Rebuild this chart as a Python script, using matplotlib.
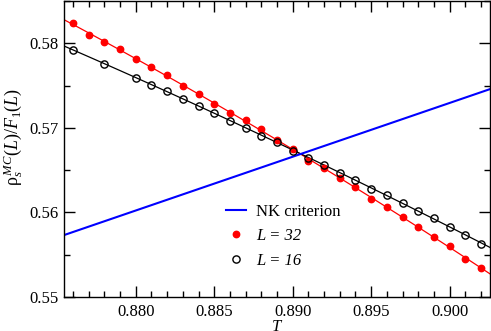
import numpy as np
import matplotlib
matplotlib.use("Agg")
import matplotlib.pyplot as plt
from matplotlib.ticker import MultipleLocator

plt.rcParams['font.family'] = ['Liberation Serif', 'DejaVu Serif']
plt.rcParams['mathtext.fontset'] = 'custom'
plt.rcParams['mathtext.rm'] = 'Liberation Serif'
plt.rcParams['mathtext.it'] = 'Liberation Serif:italic'

# L = 32 (filled red)
T32 = [0.876, 0.877, 0.878, 0.879, 0.880, 0.881, 0.882, 0.883, 0.884, 0.885,
       0.886, 0.887, 0.888, 0.889, 0.890, 0.891, 0.892, 0.893, 0.894, 0.895,
       0.896, 0.897, 0.898, 0.899, 0.900, 0.901, 0.902]
rho32 = [0.58236, 0.58102, 0.58015, 0.57937, 0.57815, 0.57717, 0.57622, 0.57492,
         0.57401, 0.57283, 0.57177, 0.57092, 0.56985, 0.56858, 0.56752, 0.56612,
         0.56520, 0.56402, 0.56295, 0.56158, 0.56067, 0.55949, 0.55828, 0.55713,
         0.55599, 0.55453, 0.55339]

# L = 16 (open black)
T16 = [0.876, 0.878, 0.880, 0.881, 0.882, 0.883, 0.884, 0.885, 0.886, 0.887,
       0.888, 0.889, 0.890, 0.891, 0.892, 0.893, 0.894, 0.895, 0.896, 0.897,
       0.898, 0.899, 0.900, 0.901, 0.902]
rho16 = [0.57921, 0.57759, 0.57594, 0.57504, 0.57437, 0.57346, 0.57260, 0.57174,
         0.57086, 0.57004, 0.56909, 0.56831, 0.56732, 0.56649, 0.56555, 0.56472,
         0.56378, 0.56280, 0.56201, 0.56115, 0.56020, 0.55929, 0.55831, 0.55737,
         0.55630]

# NK criterion line endpoints
T_nk = [0.8754, 0.9026]
rho_nk = [0.5573, 0.5746]

xlim = (0.87543, 0.90257)

fig = plt.figure(figsize=(4.91, 3.31), dpi=100)
ax = fig.add_axes([64/491, 34/331, 426/491, 296/331])

# smooth fits through the data, over the full x range
xx = np.linspace(xlim[0], xlim[1], 100)
p32 = np.polyfit(T32, rho32, 2)
p16 = np.polyfit(T16, rho16, 2)
ax.plot(xx, np.polyval(p32, xx), color='red', lw=0.9)
ax.plot(xx, np.polyval(p16, xx), color='black', lw=0.9)

ax.plot(T_nk, rho_nk, color='#0000ff', lw=1.5, label='NK criterion')
ax.plot(T32, rho32, 'o', color='red', ms=4.6, mec='red', ls='none', label='L = 32')
ax.plot(T16, rho16, 'o', mfc='none', mec='black', ms=5.2, mew=1.0, ls='none', label='L = 16')

ax.set_xlim(*xlim)
ax.set_ylim(0.55, 0.585)
ax.xaxis.set_minor_locator(MultipleLocator(0.001))
ax.yaxis.set_minor_locator(MultipleLocator(0.005))
ax.set_xticks([0.880, 0.885, 0.890, 0.895, 0.900])
ax.set_xticklabels(['0.880', '0.885', '0.890', '0.895', '0.900'])
ax.set_yticks([0.55, 0.56, 0.57, 0.58])
ax.set_yticklabels(['0.55', '0.56', '0.57', '0.58'])
ax.tick_params(which='both', direction='in', top=True, right=True, labelsize=12)
ax.tick_params(which='major', length=8, width=1)
ax.tick_params(which='minor', length=4, width=1)
ax.tick_params(axis='x', pad=5)
ax.tick_params(axis='y', pad=4)
for s in ax.spines.values():
    s.set_linewidth(1)

ax.set_xlabel('T', fontsize=12, style='italic')
ax.xaxis.set_label_coords(0.5, -0.075)
ax.set_ylabel(r'$\mathrm{\rho}_s^{\,MC}(L)/F_1(L)$', fontsize=13)
ax.yaxis.set_label_coords(-0.092, 0.54)

leg = ax.legend(loc='upper left', bbox_to_anchor=(0.346, 0.365), frameon=False,
                fontsize=12, handlelength=1.2, handletextpad=0.6, labelspacing=0.5)
for t in leg.get_texts()[1:]:
    t.set_style('italic')

fig.savefig('out.png', dpi=100)
